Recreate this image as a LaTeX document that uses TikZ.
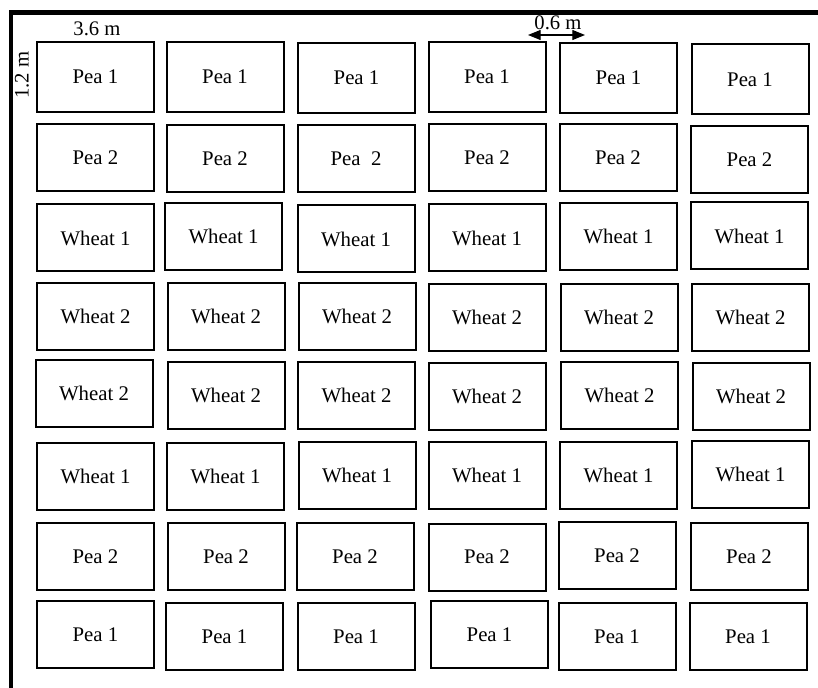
\documentclass[tikz,border=0pt]{standalone}
\usepackage{fontspec}
\setmainfont{Liberation Serif}
\usetikzlibrary{arrows.meta}

\tikzset{
    plot/.style={draw, line width=1.5pt, minimum width=87.75pt, minimum height=50.25pt,
        inner sep=0pt, font=\fontsize{15.6}{18}\selectfont},
    dimlabel/.style={inner sep=0pt, font=\fontsize{15.5}{18}\selectfont},
    frame/.style={line width=3.6pt, line join=miter}
}

\begin{document}
\begin{tikzpicture}[
    x=0.75pt,
    y=-0.75pt
]
\useasboundingbox (0,0) rectangle (818,688);

% field border
\draw[frame] (11,688) -- (11,12.5) -- (818,12.5);

% row 1
\node[plot, minimum height=52.5pt] (p11) at (95.5,77)  {Pea 1};
\node[plot, minimum height=52.5pt] (p12) at (225,77)   {Pea 1};
\node[plot, minimum height=52.5pt] (p13) at (356.5,78) {Pea 1};
\node[plot, minimum height=52.5pt] (p14) at (487,77)   {Pea 1};
\node[plot, minimum height=52.5pt] (p15) at (618.5,78) {Pea 1};
\node[plot, minimum height=52.5pt] (p16) at (750,79.5) {Pea 1};

% row 2
\node[plot] (p21) at (95.5,158)  {Pea 2};
\node[plot] (p22) at (225,158.5) {Pea 2};
\node[plot] (p23) at (356,158.5) {Pea\ \ 2};
\node[plot] (p24) at (487,158)   {Pea 2};
\node[plot] (p25) at (618,158)   {Pea 2};
\node[plot] (p26) at (749.5,159.5) {Pea 2};

% row 3
\node[plot] (p31) at (95.5,238)  {Wheat 1};
\node[plot] (p32) at (223.5,236.5) {Wheat 1};
\node[plot] (p33) at (356,239)   {Wheat 1};
\node[plot] (p34) at (487,238)   {Wheat 1};
\node[plot] (p35) at (618.5,236.5) {Wheat 1};
\node[plot] (p36) at (749.5,236) {Wheat 1};

% row 4
\node[plot] (p41) at (95.5,316)  {Wheat 2};
\node[plot] (p42) at (226,316)   {Wheat 2};
\node[plot] (p43) at (357,316)   {Wheat 2};
\node[plot] (p44) at (487,317.5) {Wheat 2};
\node[plot] (p45) at (619,317)   {Wheat 2};
\node[plot] (p46) at (750.5,317) {Wheat 2};

% row 5
\node[plot] (p51) at (94,393.5)  {Wheat 2};
\node[plot] (p52) at (226,395.5) {Wheat 2};
\node[plot] (p53) at (356.5,395.5) {Wheat 2};
\node[plot] (p54) at (487,396.5) {Wheat 2};
\node[plot] (p55) at (619.5,395.5) {Wheat 2};
\node[plot] (p56) at (751,396.5) {Wheat 2};

% row 6
\node[plot] (p61) at (95.5,476)  {Wheat 1};
\node[plot] (p62) at (225.5,476.5) {Wheat 1};
\node[plot] (p63) at (357,475)   {Wheat 1};
\node[plot] (p64) at (487,475.5) {Wheat 1};
\node[plot] (p65) at (618.5,475.5) {Wheat 1};
\node[plot] (p66) at (750.5,474.5) {Wheat 1};

% row 7
\node[plot] (p71) at (95.5,556.5) {Pea 2};
\node[plot] (p72) at (226,556.5)  {Pea 2};
\node[plot] (p73) at (355,556.5)  {Pea 2};
\node[plot] (p74) at (487,557)    {Pea 2};
\node[plot] (p75) at (617,555.5)  {Pea 2};
\node[plot] (p76) at (749,556.5)  {Pea 2};

% row 8
\node[plot] (p81) at (95.5,634.5) {Pea 1};
\node[plot] (p82) at (224.5,636.5) {Pea 1};
\node[plot] (p83) at (356,636.5)  {Pea 1};
\node[plot] (p84) at (489.5,634.5) {Pea 1};
\node[plot] (p85) at (617,636.5)  {Pea 1};
\node[plot] (p86) at (748,636.5)  {Pea 1};

% dimensions
\node[dimlabel] (lenlabel) at (97,29) {3.6 m};
\node[dimlabel, rotate=90] (widlabel) at (22,75) {1.2 m};
\node[dimlabel] (gaplabel) at (558,23) {0.6 m};
\coordinate (gapL) at (528,35);
\coordinate (gapR) at (585,35);
\draw[line width=0.8pt, {Triangle[length=9.5pt,width=7.5pt]}-{Triangle[length=9.5pt,width=7.5pt]}] (gapL) -- (gapR);
\end{tikzpicture}
\end{document}
